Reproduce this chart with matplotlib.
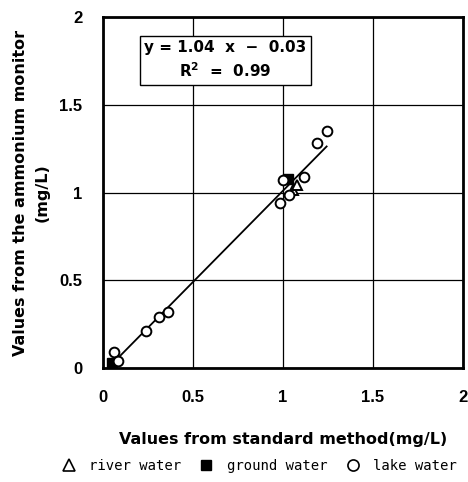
import matplotlib
matplotlib.use("Agg")
import matplotlib.pyplot as plt
from matplotlib.lines import Line2D
import numpy as np

# Data (mg/L)
lake_x = [0.063, 0.085, 0.237, 0.309, 0.363, 0.983, 1.000, 1.035, 1.120, 1.190, 1.243]
lake_y = [0.089, 0.040, 0.211, 0.289, 0.321, 0.940, 1.070, 0.986, 1.090, 1.284, 1.350]
river_x = [1.057, 1.076]
river_y = [1.014, 1.043]
ground_x = [0.050, 1.030]
ground_y = [0.030, 1.080]

slope, intercept = 1.04, -0.03
fit_text = "y = 1.04  x  \u2212  0.03\nR$^{\\mathregular{2}}$  =  0.99"

ticks = [0, 0.5, 1, 1.5, 2]
tick_labels = ["0", "0.5", "1", "1.5", "2"]

BOLD = "DejaVu Sans"

fig = plt.figure(figsize=(4.68, 4.82), dpi=100)
ax = fig.add_axes([0.220, 0.2365, 0.769, 0.728])

ax.set_xlim(0, 2)
ax.set_ylim(0, 2)
ax.set_xticks(ticks)
ax.set_yticks(ticks)
ax.set_xticklabels(tick_labels, fontfamily="Liberation Sans", fontweight="bold", fontsize=12)
ax.set_yticklabels(tick_labels, fontfamily="Liberation Sans", fontweight="bold", fontsize=12)
ax.tick_params(length=0, pad=15)
ax.tick_params(axis="x", pad=16)
ax.grid(True, color="black", linewidth=0.9)
ax.set_axisbelow(True)
for sp in ax.spines.values():
    sp.set_linewidth(2)

# regression line across the data range
all_x = lake_x + river_x + ground_x
xs = np.array([min(all_x), max(all_x)])
ax.plot(xs, slope * xs + intercept, color="black", linewidth=1.3, zorder=3)

ax.plot(ground_x, ground_y, "s", color="black", markersize=6.5, zorder=4)
ax.plot(river_x, river_y, "^", markerfacecolor="white", markeredgecolor="black",
        markeredgewidth=1.4, markersize=7.5, zorder=4)
ax.plot(lake_x, lake_y, "o", markerfacecolor="white", markeredgecolor="black",
        markeredgewidth=1.4, markersize=7, zorder=5)

ax.text(0.68, 1.755, fit_text, ha="center", va="center", fontfamily=BOLD,
        fontweight="bold", fontsize=11, linespacing=1.4,
        bbox=dict(boxstyle="square,pad=0.3", facecolor="white",
                  edgecolor="black", linewidth=1))

ax.set_xlabel("Values from standard method(mg/L)", fontfamily=BOLD,
              fontweight="bold", fontsize=11.5, labelpad=19)
ax.set_ylabel("Values from the ammonium monitor\n(mg/L)", fontfamily=BOLD,
              fontweight="bold", fontsize=11.5, labelpad=7, linespacing=1.55)

handles = [
    Line2D([], [], marker="^", linestyle="none", markerfacecolor="white",
           markeredgecolor="black", markersize=8, markeredgewidth=1.2),
    Line2D([], [], marker="s", linestyle="none", color="black", markersize=7),
    Line2D([], [], marker="o", linestyle="none", markerfacecolor="white",
           markeredgecolor="black", markersize=8, markeredgewidth=1.2),
]
fig.legend(handles, ["river water", "ground water", "lake water"],
           loc="center", bbox_to_anchor=(0.55, 0.033), ncol=3, frameon=False,
           prop={"family": "DejaVu Sans Mono", "size": 10},
           handletextpad=0.7, columnspacing=1.1, handlelength=1.5)

fig.savefig("out.png", dpi=100)
